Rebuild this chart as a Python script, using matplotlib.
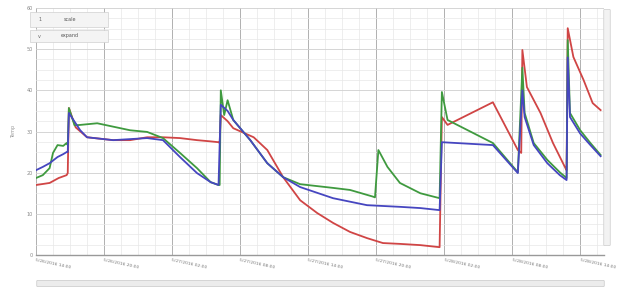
import numpy as np
import matplotlib.pyplot as plt
from matplotlib.patches import FancyBboxPatch, Rectangle
from matplotlib.ticker import MultipleLocator

# hours since start, temperature readings
red_x = [0, 1.2, 2.0, 2.7, 2.8, 2.9, 3.5, 4.5, 6.8, 8.3, 9.8, 11.2, 12.7, 14.2, 15.4, 16.1, 16.2,
         16.3, 16.9, 17.4, 19.2, 20.4, 21.8, 23.3, 24.8, 26.2, 27.7, 29.2, 30.6, 32.1, 33.9, 35.6,
         35.8, 36.3, 40.3, 42.5, 42.8, 42.9, 43.3, 44.5, 45.6, 46.7, 46.8,
         46.9, 47.4, 48.3, 49.1, 49.8]
red_y = [17.0, 17.5, 18.7, 19.4, 19.9, 35.7, 31.0, 28.6, 27.9, 27.9, 28.6, 28.6, 28.4, 27.9, 27.6, 27.4, 27.2,
         34.0, 32.5, 30.8, 28.6, 25.5, 18.9, 13.3, 10.2, 7.8, 5.6, 4.1, 2.9, 2.7, 2.4, 1.9,
         33.5, 31.6, 37.1, 25.5, 24.8, 49.8, 40.8, 34.5, 27.2, 21.1, 20.6,
         55.1, 48.1, 42.5, 36.9, 35.2]

green_x = [0, 0.6, 1.2, 1.5, 1.9, 2.4, 2.7, 2.8, 2.9, 3.4, 3.9, 5.4, 8.3, 9.8, 11.2, 12.7, 14.2, 15.4,
           16.1, 16.2, 16.3, 16.6, 16.9, 17.4, 18.9, 20.4, 21.8, 23.3, 26.2, 27.7, 29.7, 29.9,
           30.2, 31.0, 32.1, 33.9, 35.6, 35.8, 36.3, 40.3, 42.5, 42.9, 43.1, 43.9, 45.1, 46.2, 46.8,
           46.9, 47.1, 48.0, 48.9, 49.8]
green_y = [18.7, 19.4, 21.1, 24.8, 26.7, 26.5, 27.2, 26.7, 35.7, 31.5, 31.6, 32.0, 30.3, 29.9, 28.4, 24.8, 21.1, 17.7,
           17.0, 17.0, 40.0, 34.0, 37.6, 32.8, 27.9, 22.3, 18.9, 17.2, 16.3, 15.8, 14.2, 14.0,
           25.5, 21.4, 17.5, 15.0, 13.8, 39.6, 32.8, 27.2, 20.1, 45.5, 34.5, 27.2, 23.1, 20.1, 18.7,
           52.2, 34.5, 30.3, 27.2, 24.3]

blue_x = [0, 0.6, 1.2, 1.9, 2.4, 2.7, 2.8, 2.9, 3.9, 4.5, 6.8, 9.8, 11.2, 12.7, 14.2, 15.4, 16.1,
          16.3, 16.9, 17.4, 18.9, 20.4, 21.8, 23.3, 26.2, 29.2, 32.1, 33.9, 35.6,
          35.8, 40.3, 42.5, 42.9, 43.1, 43.9, 45.1, 46.2, 46.8,
          46.9, 47.1, 48.0, 48.9, 49.8]
blue_y = [20.6, 21.4, 22.3, 23.8, 24.5, 25.0, 25.0, 34.5, 30.3, 28.6, 27.9, 28.4, 27.9, 23.8, 19.9, 17.7, 17.0,
          36.5, 35.0, 32.8, 27.9, 22.3, 18.9, 16.5, 13.8, 12.1, 11.7, 11.4, 10.9,
          27.4, 26.7, 19.9, 40.0, 33.5, 26.7, 22.3, 19.4, 18.2,
          48.0, 33.5, 29.5, 26.7, 24.0]

tick_hours = [0, 6, 12, 18, 24, 30, 36, 42, 48]
tick_labels = ['5/26/2016 14:00', '5/26/2016 20:00', '5/27/2016 02:00', '5/27/2016 08:00',
               '5/27/2016 14:00', '5/27/2016 20:00', '5/28/2016 02:00', '5/28/2016 08:00',
               '5/28/2016 14:00']
y_ticks = [0, 10, 20, 30, 40, 50, 60]

fig = plt.figure(figsize=(6.18, 2.89), dpi=100)
ax = fig.add_axes([36 / 618, 1 - 255 / 289, 568 / 618, 247 / 289])

ax.plot(red_x, red_y, color='#d04545', lw=1.3)
ax.plot(green_x, green_y, color='#3f9a3f', lw=1.3)
ax.plot(blue_x, blue_y, color='#4646c0', lw=1.3)

ax.set_xlim(0, 50.1)
ax.set_ylim(0, 60)
ax.set_xticks(tick_hours)
ax.set_xticklabels(tick_labels, rotation=-12, ha='left', rotation_mode='anchor', fontsize=3.2, color='#777777')
ax.set_yticks(y_ticks)
ax.set_yticklabels([str(v) for v in y_ticks], fontsize=3.5, color='#888888')
ax.xaxis.set_minor_locator(MultipleLocator(1.5))
ax.yaxis.set_minor_locator(MultipleLocator(2.5))
ax.grid(which='major', axis='x', color='#b0b0b0', lw=0.7)
ax.grid(which='major', axis='y', color='#cfcfcf', lw=0.6)
ax.grid(which='minor', color='#e8e8e8', lw=0.5)
ax.set_axisbelow(True)
ax.tick_params(which='both', length=0, pad=2)
ax.set_ylabel('Temp', fontsize=3.5, color='#999999', labelpad=8)
for s in ['top', 'right', 'left']:
    ax.spines[s].set_visible(False)
ax.spines['bottom'].set_color('#999999')
ax.spines['bottom'].set_linewidth(1.0)

# legend buttons at top left
def px(x, y):
    return x / 618, 1 - y / 289

for y0, y1, mark, label in [(12, 27, '1', 'scale'), (30, 42, 'v', 'expand')]:
    x0, yb = px(30, y1)
    fig.patches.append(Rectangle((x0, yb), 78 / 618, (y1 - y0) / 289, transform=fig.transFigure,
                                 facecolor='#f4f4f4', edgecolor='#d0d0d0', lw=0.5))
    fig.text(*px(38, (y0 + y1) / 2), mark, fontsize=3.5, color='#666666', va='center')
    fig.text(*px(70, (y0 + y1) / 2), label, fontsize=3.5, color='#555555', va='center', ha='center')

# scroll bars
fig.patches.append(FancyBboxPatch(px(38, 286), 565 / 618, 5 / 289, boxstyle='round,pad=0.002',
                                  transform=fig.transFigure, facecolor='#ececec', edgecolor='#c8c8c8', lw=0.5))
fig.patches.append(FancyBboxPatch(px(605, 245), 4 / 618, 235 / 289, boxstyle='round,pad=0.002',
                                  transform=fig.transFigure, facecolor='#f2f2f2', edgecolor='#cccccc', lw=0.5))

fig.savefig('out.png', dpi=100)
